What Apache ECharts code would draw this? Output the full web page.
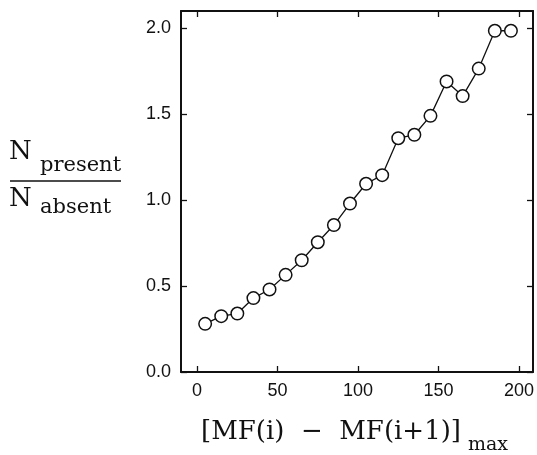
<!DOCTYPE html>
<html>
<head>
<meta charset="utf-8">
<script src="https://cdn.jsdelivr.net/npm/echarts@6/dist/echarts.min.js"></script>
<style>
  html, body { margin: 0; padding: 0; background: #fff; }
  #chart { width: 537px; height: 455px; }
</style>
</head>
<body>
<div id="chart"></div>
<script>
// data
const mfDiff = [5, 15, 25, 35, 45, 55, 65, 75, 85, 95, 105, 115, 125, 135, 145, 155, 165, 175, 185, 195]
const ratio = [0.28, 0.325, 0.34, 0.43, 0.48, 0.565, 0.65, 0.755, 0.855, 0.98, 1.095, 1.145,
  1.36, 1.38, 1.49, 1.69, 1.605, 1.765, 1.985, 1.985]
const xTicks = [0, 50, 100, 150, 200]
const yTicks = [0, 0.5, 1.0, 1.5, 2.0]

const ink = '#111'
const serif = '"DejaVu Serif", "Liberation Serif", serif'

const chart = echarts.init(document.getElementById('chart'))

function frameAxis(pos, ticks, withLabels) {
  return {
    type: 'value',
    position: pos,
    axisLine: { show: true, onZero: false, lineStyle: { color: ink, width: 2 } },
    axisTick: { show: true, inside: true, length: 6, customValues: ticks, lineStyle: { color: ink, width: 1.3 } },
    axisLabel: {
      show: withLabels,
      customValues: ticks,
      color: ink,
      fontFamily: 'Liberation Sans',
      fontSize: 18,
      margin: 10,
      formatter: v => (pos === 'left' ? v.toFixed(1) : String(v))
    },
    splitLine: { show: false }
  }
}

const xBottom = Object.assign(frameAxis('bottom', xTicks, true), { min: -10, max: 208.7 })
const xTop = Object.assign(frameAxis('top', xTicks, false), { min: -10, max: 208.7 })
const yLeft = Object.assign(frameAxis('left', yTicks, true), { min: 0, max: 2.1 })
const yRight = Object.assign(frameAxis('right', yTicks, false), { min: 0, max: 2.1 })

const option = {
  animation: false,
  grid: { left: 181, right: 4, top: 11, bottom: 83 },
  xAxis: [xBottom, xTop],
  yAxis: [yLeft, yRight],
  series: [
    {
      type: 'line',
      data: mfDiff.map((x, i) => [x, ratio[i]]),
      symbol: 'circle',
      symbolSize: 12.5,
      lineStyle: { color: ink, width: 1.3 },
      itemStyle: { color: '#fff', borderColor: ink, borderWidth: 1.5 }
    }
  ],
  graphic: [
    { type: 'text', left: 9, top: 139, style: { text: 'N', font: '26px ' + serif, fill: ink } },
    { type: 'text', left: 40, top: 155, style: { text: 'present', font: '21px ' + serif, fill: ink } },
    { type: 'line', shape: { x1: 10, y1: 181, x2: 121, y2: 181 }, style: { stroke: ink, lineWidth: 1.5 } },
    { type: 'text', left: 9, top: 186, style: { text: 'N', font: '26px ' + serif, fill: ink } },
    { type: 'text', left: 40, top: 197, style: { text: 'absent', font: '21px ' + serif, fill: ink } },
    { type: 'text', left: 201, top: 419, style: { text: '[MF(i)  \u2212  MF(i+1)]', font: '26px ' + serif, fill: ink } },
    { type: 'text', left: 468, top: 436, style: { text: 'max', font: '19px ' + serif, fill: ink } }
  ]
}

chart.setOption(option)
</script>
</body>
</html>
